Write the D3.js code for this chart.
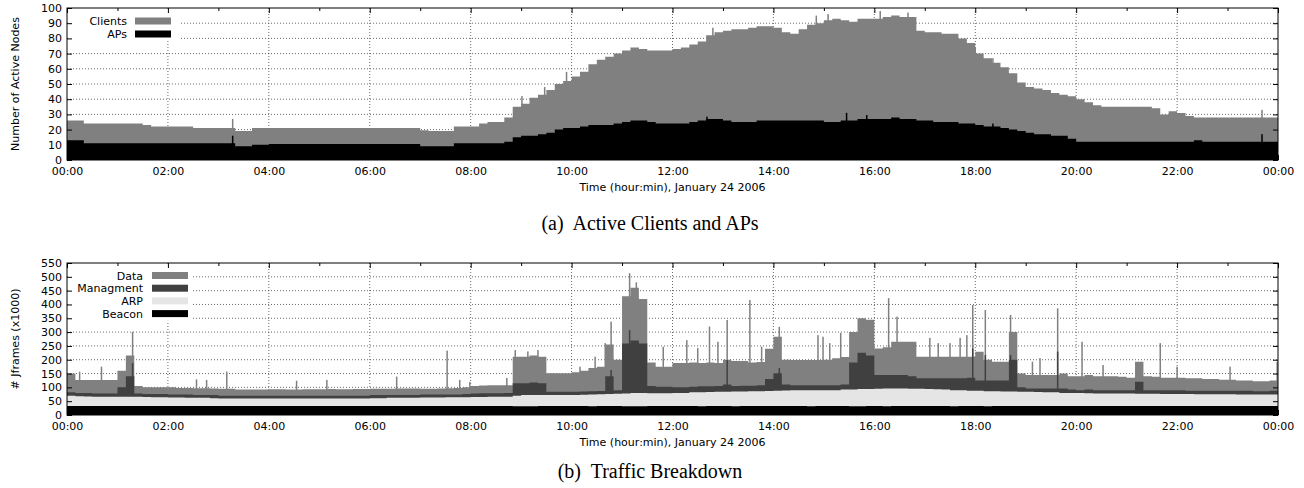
<!DOCTYPE html>
<html><head><meta charset="utf-8">
<script src="https://cdn.jsdelivr.net/npm/d3@7"></script>
<style>
body{margin:0;background:#fff}
svg text{font-family:"DejaVu Sans",sans-serif;fill:#000}
</style></head><body>
<svg id="c" width="1304" height="488"></svg>
<script>
// ---------- data (10-minute bins, 00:00 .. 23:50) ----------
const timeTicks = ["00:00","02:00","04:00","06:00","08:00","10:00","12:00","14:00","16:00","18:00","20:00","22:00","00:00"];
const nodeTicks = [0,10,20,30,40,50,60,70,80,90,100];
const frameTicks = [0,50,100,150,200,250,300,350,400,450,500,550];

const clients = [
26,26,24,24,24,24, 24,24,24,23,22,22, 22,22,22,21,21,21, 21,21,19,19,21,21,
21,21,21,21,21,21, 21,21,21,21,21,21, 21,21,21,21,21,21, 19.5,19,19,19,22,22,
22,24,25,25,28,35, 37,41,43,46,50,52, 55,58,63,66,68,70, 72,74,73,72,72,72,
73,74,76,78,82,84, 85,86,86,87,88,88, 87,84,83,86,89,90, 92,93,92,91,93,93,
93,94,95,94,94,85, 84,84,83,83,80,77, 70,67,64,61,57,51, 48,47,46,44,43,42,
40,38,36,35,35,35, 35,35,35,34,30,32, 31,29,28,28,28,28, 28,28,28,28,28,28];
const aps = [
13,13,11,11,11,11, 11,11,11,11,11,11, 11,11,11,11,11,11, 11,11,9,9,10,10,
10.5,10.5,10.5,10.5,10.5,10.5, 10.5,10.5,10.5,10.5,10.5,10.5, 10.5,10.5,10.5,10.5,10.5,10.5, 9,9,9,9,11,11,
11,11,11,11,12,15, 16,16,17,18,20,21, 21,22,23,23,23,24, 25,26,26,25,24,24,
24,24,25,26,27,27, 26,25,25,25,26,26, 26,26,26,26,26,26, 25,25,26,26,27,27,
27,27,28,27,27,26, 26,25,25,25,24,24, 23,22,22,21,20,19, 18,17,17,16,16,14,
12,12,12,12,12,12, 12,12,12,12,12,12, 12,12,13,12,12,12, 12,12,12,12,12,12];
const clientSpikes = [[197,27],[541,42],[568,48],[594,58],[768,87],[891,95],[905,96],[967,98],[1000,97],
  [1080,74],[1101,67],[1421,33]];
const apSpikes = [[197,16],[761,28.5],[927,31],[951,29.6],[1101,24],[1421,17]];

const dataFrames = [
150,127,127,127,127,127, 160,215,105,100,100,100, 100,98,98,97,97,96, 95,95,92,92,92,92,
93,93,92,92,93,93, 93,94,93,93,94,94, 95,95,95,96,96,96, 95,95,96,97,98,100,
105,107,108,108,108,211, 211,215,211,151,151,151, 155,160,170,175,255,200, 430,460,420,190,175,175,
188,188,190,188,190,188, 200,195,195,190,192,240, 283,200,199,199,199,199, 200,205,210,300,350,345,
241,245,265,265,265,211, 211,211,211,211,211,211, 229,200,193,193,300,150, 145,145,145,145,150,140,
140,145,140,140,140,138, 135,193,140,138,135,135, 135,133,133,130,130,128, 128,125,125,122,122,125];
const mgmtFrames = [
82,80,80,78,78,78, 100,140,78,76,76,76, 74,74,74,72,72,72, 70,70,70,70,70,70,
70,70,70,70,70,70, 70,70,70,70,70,70, 72,72,72,72,72,72, 74,74,74,74,74,76,
78,79,79,79,80,115, 115,118,115,84,84,84, 84,85,86,87,140,90, 259,270,259,105,102,102,
100,100,102,104,104,105, 110,105,106,106,108,130, 151,110,108,108,108,108, 108,108,110,190,225,215,
145,145,145,145,140,133, 133,133,133,133,133,135, 125,125,125,125,200,100, 96,96,96,96,96,92,
90,92,90,90,90,90, 90,120,90,90,90,90, 90,88,88,88,88,88, 88,88,88,86,86,88];
const arpFrames = [
70,68,67,66,66,66, 66,66,66,65,64,64, 63,63,62,62,62,61, 60,60,60,60,60,60,
60,60,60,60,60,60, 60,60,60,60,60,60, 61,61,62,62,62,62, 63,63,63,64,64,64,
65,65,66,66,66,70, 72,72,72,72,72,72, 72,73,74,75,76,77, 78,80,80,79,79,79,
80,80,82,82,83,84, 84,85,85,86,86,87, 88,89,90,90,90,90, 90,90,92,92,94,94,
95,96,96,96,95,95, 94,93,92,90,90,88, 88,86,86,85,85,84, 84,83,82,82,80,80,
80,79,78,78,78,78, 78,77,77,77,76,76, 76,76,75,75,75,75, 75,74,74,74,74,74];
const beaconFrames = [
33,33,33,33,33,33, 33,33,33,33,33,33, 33,33,33,33,33,33, 33,33,33,33,33,33,
33,33,33,33,33,33, 33,33,33,33,33,33, 33,33,33,33,33,33, 33,33,33,33,33,33,
33,33,33,33,33,32, 32,32,33,33,33,33, 33,33,32,33,33,33, 32,32,32,33,33,33,
33,33,33,32,33,33, 33,32,33,33,33,33, 33,33,33,33,32,33, 33,33,33,32,32,33,
33,32,33,33,33,33, 33,33,33,32,33,33, 33,32,33,33,33,33, 33,33,33,33,33,33,
33,33,33,33,33,33, 33,33,33,33,33,33, 33,33,33,33,33,33, 33,33,33,33,33,33];
const dataSpikes = [[15,157],[41,175],[78,301],[154,129],[166,127],[190,157],[273,124],[309,127],[392,139],
  [452,233],[467,127],[479,120],[523,134],[533,235],[548,230],[560,235],[610,175],[628,211],[640,260],
  [647,338],[669,513],[677,480],[709,247],[737,271],[750,242],[764,320],[774,265],[785,344],[812,416],
  [826,247],[847,319],[893,289],[899,283],[907,260],[920,297],[977,423],[987,356],[1026,279],[1036,260],
  [1050,260],[1062,279],[1070,289],[1077,398],[1092,380],[1122,362],[1148,193],[1157,206],[1178,386],
  [1207,265],[1232,181],[1300,260],[1320,175],[1383,175],[1439,193]];
const mgmtSpikes = [[78,188],[647,163],[669,307],[785,199],[847,170],[1077,241],[1092,217],[1122,217],[1178,229]];

// ---------- drawing ----------
const svg = d3.select("#c");
const L = 67, R = 1278;
const x = d3.scaleLinear().domain([0, 1440]).range([L, R]);
const COLORS = {clients:"#808080", aps:"#000000", data:"#808080", mgmt:"#404040", arp:"#e5e5e5", beacon:"#000000"};

function drawPanel(opt) {
  const g = svg.append("g");
  const y = d3.scaleLinear().domain([0, opt.yMax]).range([opt.bottom, opt.top]);
  const clipId = "clip" + opt.id;
  svg.append("clipPath").attr("id", clipId).append("rect")
    .attr("x", L).attr("y", opt.top).attr("width", R - L).attr("height", opt.bottom - opt.top);

  // grid
  const grid = g.append("g").attr("stroke", "#444").attr("stroke-width", 0.8).attr("stroke-dasharray", "1,2");
  opt.yTicks.filter(v => v > 0 && v < opt.yMax).forEach(v => {
    grid.append("line").attr("x1", L).attr("x2", R).attr("y1", y(v)).attr("y2", y(v));
  });
  d3.range(120, 1440, 120).forEach(m => {
    grid.append("line").attr("x1", x(m)).attr("x2", x(m)).attr("y1", opt.top).attr("y2", opt.bottom);
  });

  // layers
  const layersG = g.append("g").attr("clip-path", `url(#${clipId})`);
  opt.layers.forEach(layer => {
    const pts = layer.values.map((v, i) => [i * 10, v]);
    pts.push([1440, layer.values[layer.values.length - 1]]);
    const area = d3.area().x(d => x(d[0])).y0(y(0)).y1(d => y(d[1])).curve(d3.curveStepAfter);
    layersG.append("path").datum(pts).attr("d", area).attr("fill", layer.color);
    layersG.selectAll(null).data(layer.spikes || []).enter().append("rect")
      .attr("x", d => x(d[0]) - 0.75).attr("width", 1.5)
      .attr("y", d => y(d[1])).attr("height", d => y(0) - y(d[1]))
      .attr("fill", layer.color);
  });

  // legend box
  const lg = g.append("g");
  lg.append("rect").attr("x", L + 1).attr("y", opt.top + 1)
    .attr("width", opt.legendW).attr("height", opt.legend.length * opt.legendStep + 6).attr("fill", "#fff");
  opt.legend.forEach((it, i) => {
    const cy = opt.top + opt.legendY0 + i * opt.legendStep;
    lg.append("text").attr("x", opt.legendTextX).attr("y", cy + 4).attr("text-anchor", "end")
      .attr("font-size", 11).text(it.name);
    lg.append("rect").attr("x", opt.swX).attr("y", cy - 3.5).attr("width", 36).attr("height", 7).attr("fill", it.color);
  });

  // axes
  const fmt = (d, i) => timeTicks[i];
  g.append("g").attr("transform", `translate(0,${opt.bottom})`)
    .call(d3.axisBottom(x).tickValues(d3.range(0, 1441, 120)).tickFormat(fmt).tickSize(-5).tickSizeOuter(0).tickPadding(7));
  g.append("g").attr("transform", `translate(0,${opt.bottom})`)
    .call(d3.axisBottom(x).tickValues(d3.range(60, 1440, 120)).tickFormat("").tickSize(-3).tickSizeOuter(0));
  g.append("g").attr("transform", `translate(0,${opt.top})`)
    .call(d3.axisTop(x).tickValues(d3.range(0, 1441, 120)).tickFormat("").tickSize(-5).tickSizeOuter(0));
  g.append("g").attr("transform", `translate(0,${opt.top})`)
    .call(d3.axisTop(x).tickValues(d3.range(60, 1440, 120)).tickFormat("").tickSize(-3).tickSizeOuter(0));
  g.append("g").attr("transform", `translate(${L},0)`)
    .call(d3.axisLeft(y).tickValues(opt.yTicks).tickFormat(d3.format("d")).tickSize(-5).tickSizeOuter(0).tickPadding(5));
  g.append("g").attr("transform", `translate(${R},0)`)
    .call(d3.axisRight(y).tickValues(opt.yTicks).tickFormat("").tickSize(-5).tickSizeOuter(0));
  g.selectAll(".domain").remove();
  g.selectAll(".tick line").attr("stroke", "#000");
  g.selectAll(".tick text").attr("font-size", 11).attr("font-family", "DejaVu Sans, sans-serif").attr("fill", "#000");

  // border
  g.append("rect").attr("x", L).attr("y", opt.top).attr("width", R - L).attr("height", opt.bottom - opt.top)
    .attr("fill", "none").attr("stroke", "#000").attr("stroke-width", 1);

  // titles
  g.append("text").attr("transform", `translate(15,${(opt.top + opt.bottom) / 2}) rotate(-90)`)
    .attr("text-anchor", "middle").attr("dominant-baseline", "central").attr("font-size", 11).text(opt.yLabel);
  g.append("text").attr("x", (L + R) / 2).attr("y", opt.bottom + 31).attr("text-anchor", "middle")
    .attr("font-size", 11).text("Time (hour:min), January 24 2006");
  g.append("text").attr("x", 650).attr("y", opt.captionY).attr("text-anchor", "middle")
    .attr("font-size", 20)
    .style("font-family", "'Liberation Serif', serif").style("white-space", "pre").text(opt.caption);
}

drawPanel({
  id: "a", top: 8, bottom: 160, yMax: 100, yTicks: nodeTicks, yLabel: "Number of Active Nodes",
  layers: [
    {values: clients, spikes: clientSpikes, color: COLORS.clients},
    {values: aps, spikes: apSpikes, color: COLORS.aps}
  ],
  legend: [{name: "Clients", color: COLORS.clients}, {name: "APs", color: COLORS.aps}],
  legendW: 111, legendStep: 13, legendY0: 13, legendTextX: 127, swX: 135,
  caption: "(a)  Active Clients and APs", captionY: 230
});
drawPanel({
  id: "b", top: 263, bottom: 415, yMax: 550, yTicks: frameTicks, yLabel: "# Jframes (x1000)",
  layers: [
    {values: dataFrames, spikes: dataSpikes, color: COLORS.data},
    {values: mgmtFrames, spikes: mgmtSpikes, color: COLORS.mgmt},
    {values: arpFrames, color: COLORS.arp},
    {values: beaconFrames, color: COLORS.beacon}
  ],
  legend: [{name: "Data", color: COLORS.data}, {name: "Managment", color: COLORS.mgmt},
           {name: "ARP", color: COLORS.arp}, {name: "Beacon", color: COLORS.beacon}],
  legendW: 125, legendStep: 12.7, legendY0: 12.5, legendTextX: 143, swX: 152,
  caption: "(b)  Traffic Breakdown", captionY: 478
});
</script>
</body></html>
